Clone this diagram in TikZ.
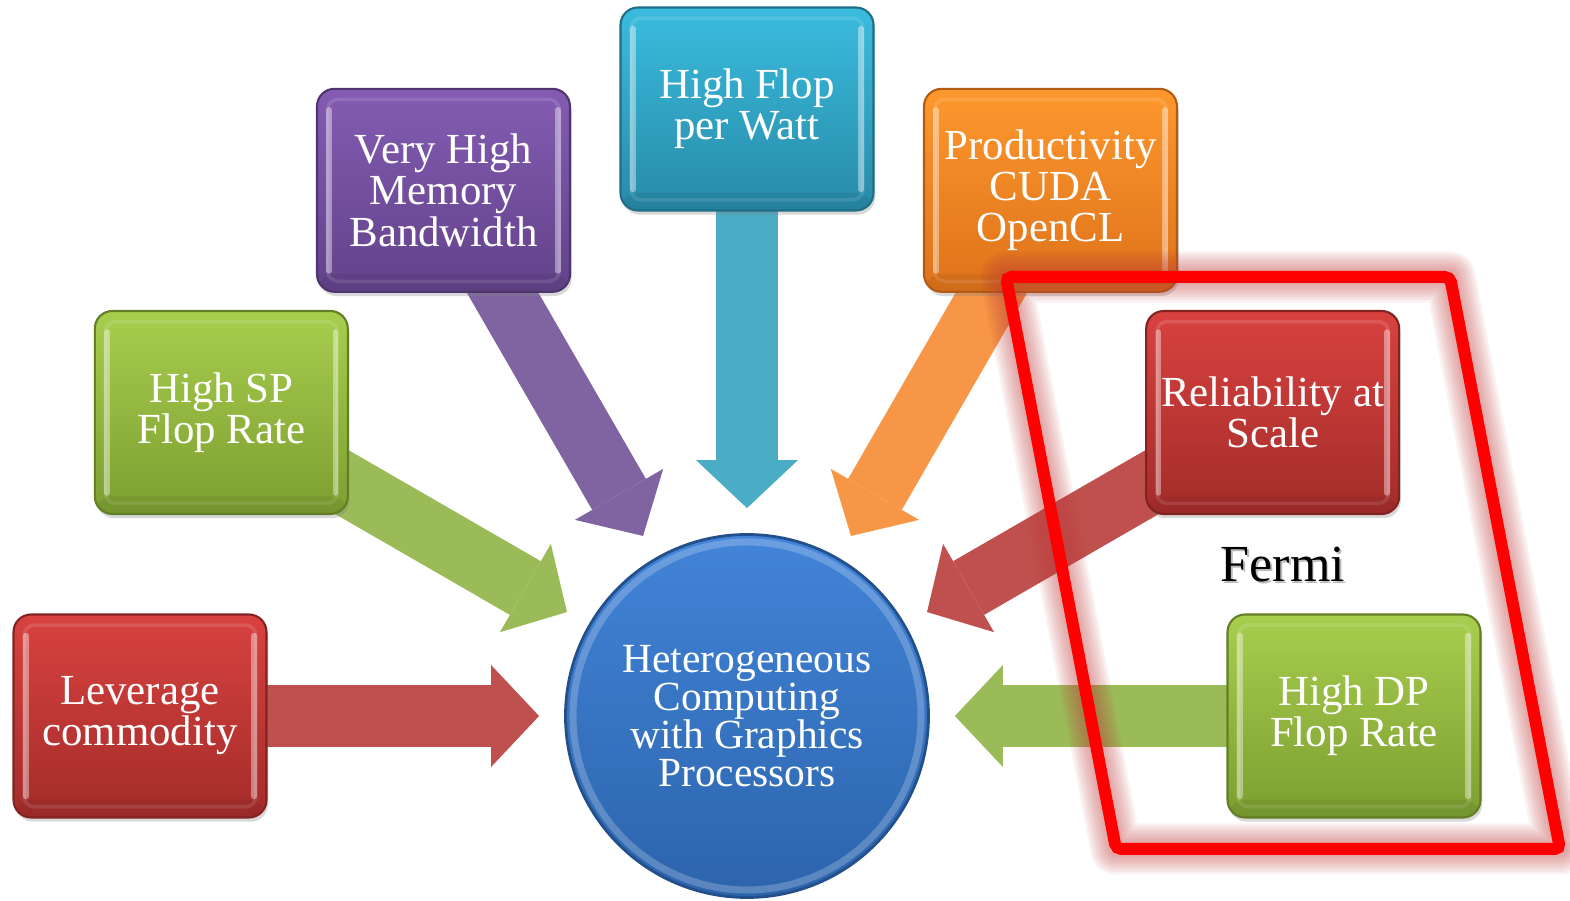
\documentclass[tikz,border=0pt]{standalone}
\usepackage{fontspec}
\setmainfont{Liberation Serif}
\usetikzlibrary{arrows.meta, backgrounds, shadows}
% Office-style accent colours
\definecolor{accred}{HTML}{C0504D}
\definecolor{accgreen}{HTML}{9BBB59}
\definecolor{accpurple}{HTML}{8064A2}
\definecolor{acccyan}{HTML}{4BACC6}
\definecolor{accorange}{HTML}{F79646}
\definecolor{redtop}{RGB}{216, 66, 63}
\definecolor{redbot}{RGB}{163, 44, 42}
\definecolor{greentop}{RGB}{168, 206, 78}
\definecolor{greenbot}{RGB}{124, 158, 48}
\definecolor{purpletop}{RGB}{132, 92, 178}
\definecolor{purplebot}{RGB}{98, 66, 138}
\definecolor{cyantop}{RGB}{58, 188, 222}
\definecolor{cyanbot}{RGB}{40, 138, 168}
\definecolor{orangetop}{RGB}{253, 152, 46}
\definecolor{orangebot}{RGB}{222, 114, 26}
\definecolor{hubtop}{RGB}{66, 132, 216}
\definecolor{hubbot}{RGB}{44, 100, 172}
\definecolor{frame}{RGB}{255, 0, 0}
\definecolor{frameglow}{RGB}{190, 60, 60}
\tikzset{
  feedarrow/.style={line width=0.62cm, shorten >=0.25cm, -{Triangle[length=0.48cm, width=1.02cm, line width=0pt]}},
  feedarrow_red/.style={feedarrow, accred},
  feedarrow_green/.style={feedarrow, accgreen},
  feedarrow_purple/.style={feedarrow, accpurple},
  feedarrow_cyan/.style={feedarrow, acccyan},
  feedarrow_orange/.style={feedarrow, accorange}
}

\begin{document}
\begin{tikzpicture}[
    featbox/.style={rectangle, rounded corners=5pt, minimum width=2.53cm, minimum height=2.03cm, align=center, text=white, inner sep=1pt,
        font=\fontsize{12.2}{11.7}\selectfont, line width=0.6pt,
        drop shadow={opacity=0.3, shadow xshift=0.5pt, shadow yshift=-1.2pt},
        path picture={
            \draw[white, opacity=0.12, line width=1pt, rounded corners=3pt]
                ([shift={(3pt,-3pt)}]path picture bounding box.north west) rectangle
                ([shift={(-3pt,3pt)}]path picture bounding box.south east);
            \draw[white, opacity=0.4, line width=1.6pt, line cap=round]
                ([shift={(3.5pt,-6pt)}]path picture bounding box.north west) --
                ([shift={(3.5pt,6pt)}]path picture bounding box.south west);
            \draw[white, opacity=0.4, line width=1.6pt, line cap=round]
                ([shift={(-3.5pt,-6pt)}]path picture bounding box.north east) --
                ([shift={(-3.5pt,6pt)}]path picture bounding box.south east);
            \fill[black, opacity=0.06]
                (path picture bounding box.south west) rectangle
                ([yshift=5pt]path picture bounding box.south east);}},
    redbox/.style={featbox, top color=redtop, bottom color=redbot, draw=redbot!80!black},
    greenbox/.style={featbox, top color=greentop, bottom color=greenbot, draw=greenbot!80!black},
    purplebox/.style={featbox, top color=purpletop, bottom color=purplebot, draw=purplebot!80!black},
    cyanbox/.style={featbox, top color=cyantop, bottom color=cyanbot, draw=cyanbot!80!black},
    orangebox/.style={featbox, top color=orangetop, bottom color=orangebot, draw=orangebot!80!black},
    hubnode/.style={circle, minimum size=3.63cm, align=center, text=white, top color=hubtop, bottom color=hubbot,
        draw=hubbot!80!black, line width=0.8pt, font=\fontsize{11.8}{10.8}\selectfont,
        path picture={\draw[white, opacity=0.22, line width=2pt]
            (path picture bounding box.center) circle (1.74cm);}},
    fermiglow/.style={draw=frameglow, line width=#1, opacity=0.07, line join=round}
]
    \useasboundingbox (-7.47, -1.85) rectangle (8.23, 7.16);

    % Hub in the middle
    \node[hubnode] (hub) at (0, 0) {Heterogeneous\\Computing\\with Graphics\\Processors};

    % Feature boxes on a half ring round the hub
    \node[redbox] (lev) at (180:6.07) {Leverage\\commodity};
    \node[greenbox] (sp) at (150:6.07) {High SP\\Flop Rate};
    \node[purplebox] (mem) at (120:6.07) {Very High\\Memory\\Bandwidth};
    \node[cyanbox] (watt) at (90:6.07) {High Flop\\per Watt};
    \node[orangebox] (prod) at (60:6.07) {Productivity\\CUDA\\OpenCL};
    \node[redbox] (rel) at (30:6.07) {Reliability at\\Scale};
    \node[greenbox] (dp) at (0:6.07) {High DP\\Flop Rate};

    % Block arrows into the hub
    \begin{scope}[on background layer]
        \draw[feedarrow_red] (lev.center) -- (hub);
        \draw[feedarrow_green] (sp.center) -- (hub);
        \draw[feedarrow_purple] (mem.center) -- (hub);
        \draw[feedarrow_cyan] (watt.center) -- (hub);
        \draw[feedarrow_orange] (prod.center) -- (hub);
        \draw[feedarrow_red] (rel.center) -- (hub);
        \draw[feedarrow_green] (dp.center) -- (hub);
    \end{scope}

    % Fermi label
    \node[font=\fontsize{14.8}{16}\selectfont, text=black!45, opacity=0.6] (fermishadow) at (5.375, 1.49) {Fermi};
    \node[font=\fontsize{14.8}{16}\selectfont] (fermi) at (5.36, 1.51) {Fermi};

    % Fermi frame with a soft glow
    \coordinate (f1) at (2.59, 4.39);
    \coordinate (f2) at (7.03, 4.39);
    \coordinate (f3) at (8.13, -1.33);
    \coordinate (f4) at (3.69, -1.33);
    \foreach \w in {0.16, 0.21, 0.26, 0.31, 0.36, 0.41, 0.46, 0.51}
        \draw[fermiglow=\w cm] (f1) -- (f2) -- (f3) -- (f4) -- cycle;
    \draw[frame, line width=0.12cm, rounded corners=1.5pt] (f1) -- (f2) -- (f3) -- (f4) -- cycle;
\end{tikzpicture}
\end{document}
